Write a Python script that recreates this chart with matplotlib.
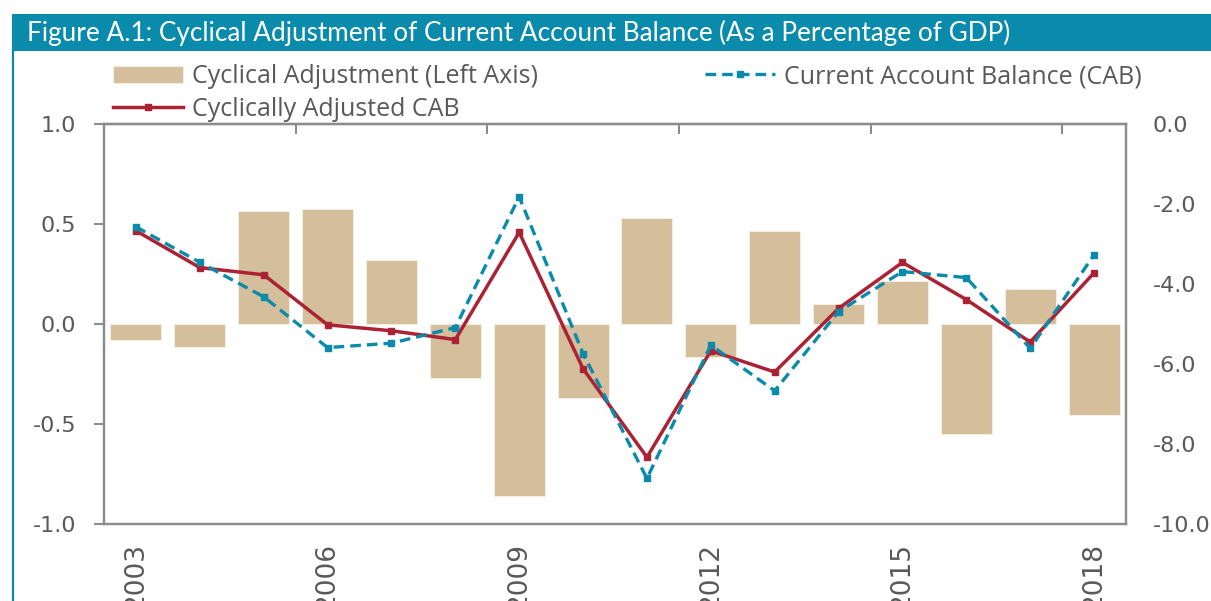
import matplotlib
matplotlib.use("Agg")
import matplotlib.pyplot as plt
from matplotlib.patches import Rectangle
from matplotlib.lines import Line2D

years = list(range(2003, 2019))
cyc_adj = [-0.078, -0.113, 0.565, 0.575, 0.32, -0.268, -0.86, -0.372,
           0.528, -0.163, 0.465, 0.098, 0.217, -0.55, 0.177, -0.455]
cab = [-2.57, -3.46, -4.32, -5.59, -5.48, -5.09, -1.82, -5.74,
       -8.86, -5.53, -6.67, -4.69, -3.69, -3.84, -5.61, -3.27]
cab_adj = [-2.67, -3.59, -3.77, -5.02, -5.17, -5.39, -2.71, -6.12,
           -8.33, -5.67, -6.2, -4.61, -3.46, -4.39, -5.45, -3.72]
xtick_years = [2003, 2006, 2009, 2012, 2015, 2018]
left_ticks = [-1.0, -0.5, 0.0, 0.5, 1.0]
right_ticks = [-10, -8, -6, -4, -2, 0]

TEAL = "#0A8BAB"
RED = "#AC2235"
TAN = "#D4BE9B"
GRAY = "#595959"
SPINE = "#8C8C8C"

W, H = 1211, 601
fig = plt.figure(figsize=(W / 100, H / 100), dpi=100)

# title bar and left border
fig.patches.append(Rectangle((12 / W, 1 - 51 / H), 1, 37 / H, transform=fig.transFigure,
                             facecolor=TEAL, edgecolor="none"))
fig.lines.append(Line2D([12.5 / W, 12.5 / W], [0, 1 - 50 / H], transform=fig.transFigure,
                        color=TEAL, lw=1.6))
t1 = fig.text(27 / W, 1 - 33 / H, "Figure A.1: Cyclical Adjustment of Current Account Balance",
              color="white", fontsize=18.8, family="Lato", va="center")
r = fig.canvas.get_renderer()
bb = t1.get_window_extent(r)
fig.text(bb.x1 / W + 6 / W, 1 - 33 / H, "(As a Percentage of GDP)", color="white",
         fontsize=18.8, family="Lato", va="center")

ax = fig.add_axes([104 / W, 1 - 524 / H, (1126 - 104) / W, 400 / H])
ax.bar(years, cyc_adj, width=0.8, color=TAN, edgecolor="#F3EDE2", linewidth=0.8,
       label="Cyclical Adjustment (Left Axis)")
ax.set_xlim(2002.5, 2018.5)
ax.set_ylim(-1, 1)
ax.set_yticks(left_ticks)
ax.set_yticklabels([f"{v:.1f}" for v in left_ticks])
ax.set_xticks(xtick_years)
ax.set_xticklabels([str(y) for y in xtick_years], rotation=90, va="top")
ax.tick_params(axis="x", length=0, pad=14, labelsize=19, labelcolor=GRAY)
ax.tick_params(axis="y", length=7, width=1.5, color=SPINE, pad=13, labelsize=16, labelcolor=GRAY)
for s in ax.spines.values():
    s.set_color(SPINE)
    s.set_linewidth(1.6)

top = ax.secondary_xaxis("top")
top.set_xticks([2005.5, 2008.5, 2011.5, 2014.5, 2017.5])
top.set_xticklabels([])
top.tick_params(direction="in", length=7, width=1.5, color=SPINE)
top.spines["top"].set_color(SPINE)
top.spines["top"].set_linewidth(1.6)

ax2 = ax.twinx()
ax2.plot(years, cab_adj, color=RED, lw=2.5, marker="s", markersize=5,
         label="Cyclically Adjusted CAB")
ax2.plot(years, cab, color=TEAL, lw=2.4, ls=(0, (3.2, 1.8)), marker="s", markersize=5,
         label="Current Account Balance (CAB)")
ax2.set_ylim(-10, 0)
ax2.set_yticks(right_ticks)
ax2.set_yticklabels([f"{v:.1f}" for v in right_ticks])
ax2.tick_params(axis="y", length=0, pad=19, labelsize=16, labelcolor=GRAY)
for s in ax2.spines.values():
    s.set_color(SPINE)
    s.set_linewidth(1.6)

h1, l1 = ax.get_legend_handles_labels()
h2, l2 = ax2.get_legend_handles_labels()
leg = fig.legend(h1 + h2, l1 + l2, ncol=2, loc="upper left",
                 bbox_to_anchor=(103 / W, 1 - 54 / H), frameon=False,
                 prop={"family": "Open Sans", "size": 18}, labelcolor=GRAY,
                 handlelength=2.8, handletextpad=0.35, columnspacing=6.7,
                 labelspacing=0.3, borderaxespad=0)

fig.savefig("out.png", dpi=100)
